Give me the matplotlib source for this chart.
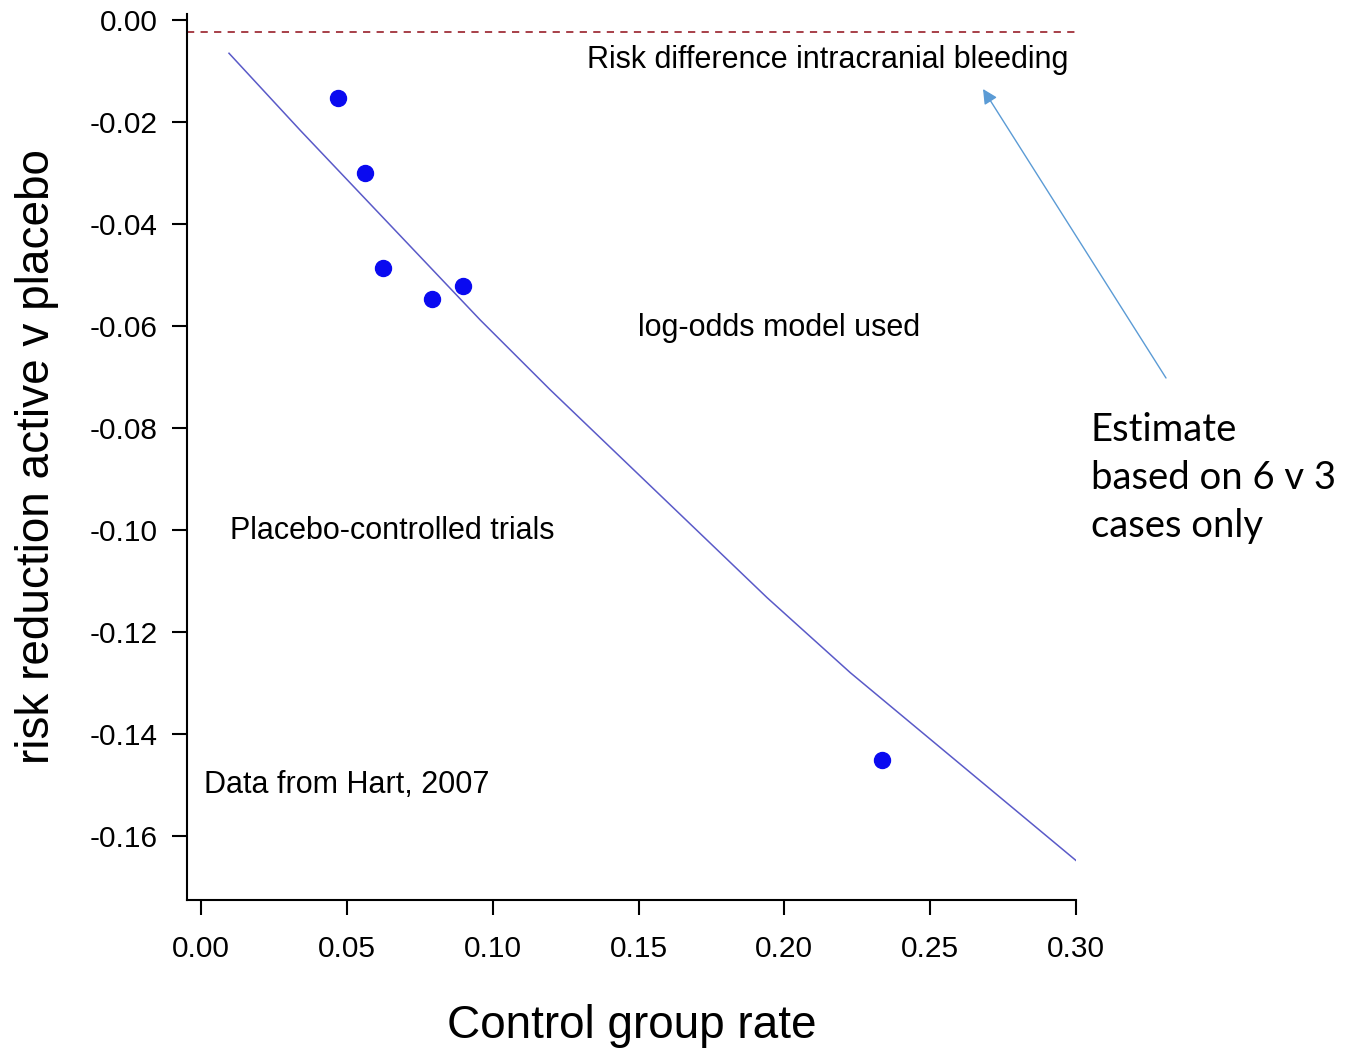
#!/usr/bin/env python3
"""Risk reduction vs control group rate (placebo-controlled trials)."""

import matplotlib

matplotlib.use("Agg")
import matplotlib.pyplot as plt

W_PX, H_PX, DPI = 1347, 1053, 100

# trial points
control_rate = [0.0469, 0.0562, 0.0623, 0.0791, 0.0899, 0.2335]
risk_reduction = [-0.0152, -0.0299, -0.0486, -0.0547, -0.0522, -0.1451]

# fitted log-odds model curve (read at a few positions)
model_x = [0.0096, 0.0340, 0.0957, 0.1197, 0.1941, 0.2226, 0.3001]
model_y = [-0.0065, -0.0216, -0.0588, -0.0725, -0.1133, -0.1280, -0.1649]

bleeding_risk = -0.0024

x_ticks = [0.00, 0.05, 0.10, 0.15, 0.20, 0.25, 0.30]
y_ticks = [0.00, -0.02, -0.04, -0.06, -0.08, -0.10, -0.12, -0.14, -0.16]

FONT = "Liberation Sans"
POINT_COLOR = "#0a0af0"
LINE_COLOR = "#5a5ac8"
REF_COLOR = "#a0303a"
ARROW_COLOR = "#5b9bd5"


def fx(px):
    return px / W_PX


def fy(py):
    return 1 - py / H_PX


def main():
    plt.rcParams["font.family"] = FONT
    fig = plt.figure(figsize=(W_PX / DPI, H_PX / DPI), dpi=DPI)
    ax = fig.add_axes([fx(187), fy(900), fx(1076) - fx(187), fy(14) - fy(900)])

    ax.axhline(bleeding_risk, color=REF_COLOR, lw=1.3, ls=(0, (4, 3.5)))
    ax.plot(model_x, model_y, color=LINE_COLOR, lw=1.1)
    ax.plot(control_rate, risk_reduction, "o", color=POINT_COLOR, ms=11.5, mec=POINT_COLOR)

    ax.set_xlim(-0.0048, 0.30)
    ax.set_ylim(-0.1726, 0.0012)
    ax.set_xticks(x_ticks)
    ax.set_xticklabels([f"{v:.2f}" for v in x_ticks])
    ax.set_yticks(y_ticks)
    ax.set_yticklabels([f"{v:.2f}" for v in y_ticks])
    for side in ("top", "right"):
        ax.spines[side].set_visible(False)
    for side in ("left", "bottom"):
        ax.spines[side].set_linewidth(1.5)
    ax.tick_params(direction="out", length=11, width=1.5, labelsize=21.5)
    ax.tick_params(axis="y", pad=10)
    ax.tick_params(axis="x", pad=14)

    ax.set_xlabel("Control group rate", fontsize=33, labelpad=30)
    ax.set_ylabel("risk reduction active v placebo", fontsize=33, labelpad=22)

    ax.text(0.2975, -0.0079, "Risk difference intracranial bleeding", fontsize=22,
            ha="right", va="center")
    ax.text(0.1499, -0.0604, "log-odds model used", fontsize=22, ha="left", va="center")
    ax.text(0.0099, -0.1003, "Placebo-controlled trials", fontsize=22, ha="left", va="center")
    ax.text(0.001, -0.1501, "Data from Hart, 2007", fontsize=22, ha="left", va="center")

    fig.text(fx(1091), fy(478), "Estimate\nbased on 6 v 3\ncases only", fontsize=27.5,
             family=["Lato", "DejaVu Sans"], ha="left", va="center", linespacing=1.42)
    ax.annotate("", xy=(fx(983), fy(89)), xycoords="figure fraction",
                xytext=(fx(1166), fy(378)), textcoords="figure fraction",
                arrowprops=dict(arrowstyle="-|>", color=ARROW_COLOR, lw=1.0,
                                mutation_scale=22, shrinkA=0, shrinkB=0),
                annotation_clip=False)

    fig.savefig("out.png", dpi=DPI)
    plt.close(fig)


if __name__ == "__main__":
    main()
